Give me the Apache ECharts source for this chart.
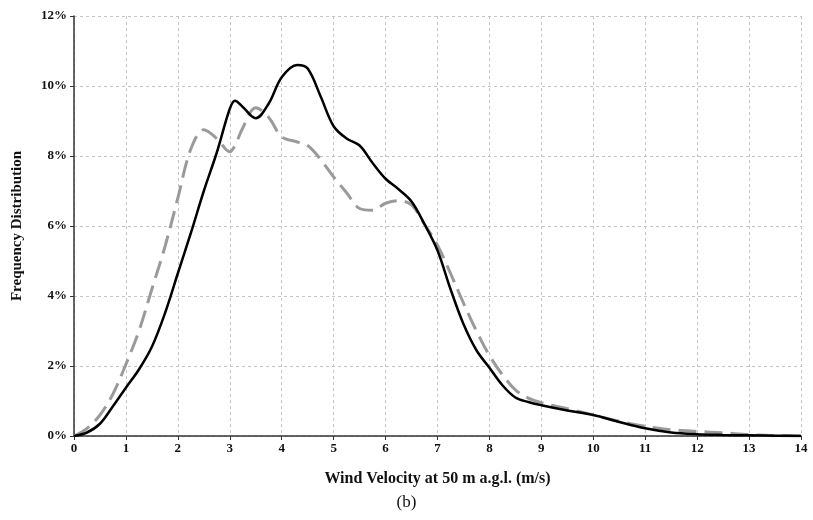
<!DOCTYPE html>
<html>
<head>
	<meta charset="UTF-8">
	<title>Frequency Distribution (b)</title>
	<script src="https://cdn.jsdelivr.net/npm/echarts@6/dist/echarts.min.js"></script>
	<style>
		html, body { margin: 0; padding: 0; background: #fff; }
		#chart { width: 813px; height: 520px; }
	</style>
</head>
<body>
<div id="chart"></div>
<script>
	// wind speed (m/s) and frequency (%)
	var speed = [0, 0.25, 0.5, 0.75, 1, 1.25, 1.5, 1.75, 2, 2.25, 2.5, 2.75, 3, 3.1, 3.25, 3.5, 3.75, 4, 4.3, 4.5, 4.75, 5, 5.25, 5.5, 5.75, 6, 6.25, 6.5, 6.75, 7, 7.25, 7.5, 7.75, 8, 8.25, 8.5, 8.75, 9, 9.5, 10, 10.5, 11, 11.5, 12, 12.5, 13, 13.5, 14];
	var solidSeries = [0, 0.1, 0.35, 0.85, 1.38, 1.9, 2.55, 3.5, 4.65, 5.8, 7.0, 8.1, 9.35, 9.58, 9.4, 9.08, 9.5, 10.25, 10.6, 10.5, 9.7, 8.85, 8.5, 8.3, 7.8, 7.35, 7.05, 6.7, 6.05, 5.3, 4.2, 3.2, 2.45, 1.95, 1.45, 1.1, 0.97, 0.88, 0.73, 0.6, 0.4, 0.22, 0.1, 0.05, 0.03, 0.02, 0.01, 0];
	var dashSeries = [0, 0.22, 0.6, 1.2, 2.05, 3.0, 4.2, 5.4, 6.8, 8.2, 8.75, 8.5, 8.12, 8.3, 8.8, 9.38, 9.1, 8.55, 8.4, 8.3, 7.9, 7.4, 6.95, 6.5, 6.45, 6.65, 6.72, 6.6, 6.05, 5.45, 4.65, 3.8, 3.0, 2.3, 1.75, 1.32, 1.08, 0.95, 0.78, 0.6, 0.42, 0.28, 0.18, 0.13, 0.09, 0.04, 0.01, 0];

	function pairs(ys) {
		var out = [];
		for (var i = 0; i < speed.length; i++) out.push([speed[i], ys[i]]);
		return out;
	}

	var font = 'Liberation Serif';
	var gridLine = { show: true, lineStyle: { color: '#c4c4c4', type: [3, 3], width: 1 } };
	var chart = echarts.init(document.getElementById('chart'));
	chart.setOption({
		animation: false,
		backgroundColor: '#fff',
		grid: { left: 74, right: 12, top: 16, bottom: 84, outerBoundsMode: 'none' },
		xAxis: {
			type: 'value', min: 0, max: 14, interval: 1,
			name: 'Wind Velocity at 50 m a.g.l. (m/s)',
			nameLocation: 'middle', nameGap: 35,
			nameTextStyle: { fontFamily: font, fontWeight: 'bold', fontSize: 16, color: '#111' },
			axisLine: { lineStyle: { color: '#333', width: 1.5 } },
			axisTick: { show: true, length: 4, lineStyle: { color: '#333' } },
			axisLabel: { fontFamily: font, fontWeight: 'bold', fontSize: 13, color: '#111', margin: 6 },
			splitLine: gridLine
		},
		yAxis: {
			type: 'value', min: 0, max: 12, interval: 2,
			name: 'Frequency Distribution',
			nameLocation: 'middle', nameGap: 49, nameRotate: 90,
			nameTextStyle: { fontFamily: font, fontWeight: 'bold', fontSize: 15, color: '#111' },
			axisLine: { show: true, lineStyle: { color: '#333', width: 1.5 } },
			axisTick: { show: true, length: 4, lineStyle: { color: '#333' } },
			axisLabel: { fontFamily: font, fontWeight: 'bold', fontSize: 13, color: '#111', margin: 7,
				formatter: function (v) { return v + '%'; } },
			splitLine: gridLine
		},
		graphic: [{
			type: 'text', left: 'center', top: 494,
			style: { text: '(b)', fontFamily: font, fontSize: 17, fill: '#111' }
		}],
		series: [{
			type: 'line', data: pairs(dashSeries), smooth: 0.35, symbol: 'none',
			lineStyle: { color: '#9a9a9a', width: 3, type: [18, 8] }
		}, {
			type: 'line', data: pairs(solidSeries), smooth: 0.35, symbol: 'none',
			lineStyle: { color: '#000', width: 2.5 }
		}]
	});
</script>
</body>
</html>
